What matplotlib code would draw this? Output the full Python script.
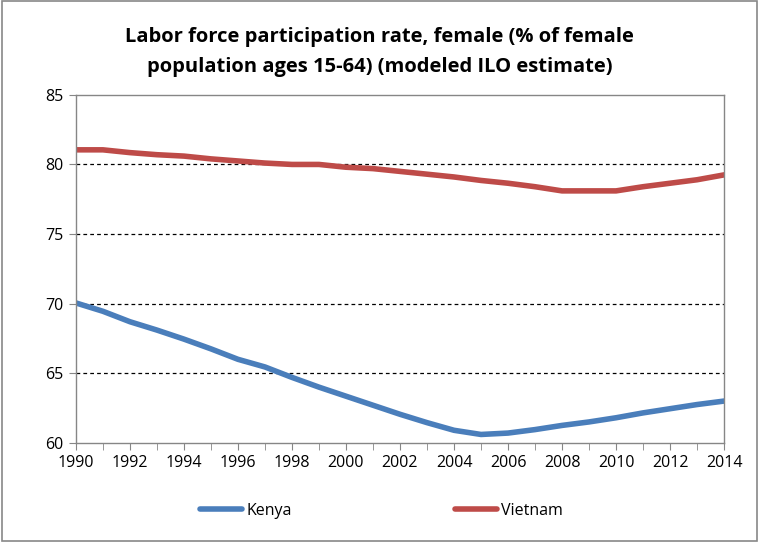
import numpy as np
import matplotlib.pyplot as plt
from matplotlib.lines import Line2D

years = list(range(1990, 2015))
kenya = [70.05, 69.45, 68.7, 68.1, 67.45, 66.75, 66.0, 65.45, 64.7, 64.0,
         63.35, 62.7, 62.05, 61.45, 60.9, 60.6, 60.7, 60.95, 61.25, 61.5,
         61.8, 62.15, 62.45, 62.75, 63.0]
vietnam = [81.05, 81.05, 80.85, 80.7, 80.6, 80.4, 80.25, 80.1, 80.0, 80.0,
           79.8, 79.7, 79.5, 79.3, 79.1, 78.85, 78.65, 78.4, 78.1, 78.1,
           78.1, 78.4, 78.65, 78.9, 79.25]
y_ticks = [60, 65, 70, 75, 80, 85]
x_labels = list(range(1990, 2015, 2))

title = "Labor force participation rate, female (% of female\npopulation ages 15-64) (modeled ILO estimate)"

plt.rcParams['font.family'] = ['Open Sans', 'DejaVu Sans']

fig = plt.figure(figsize=(7.59, 5.42), dpi=100)
ax = fig.add_axes([0.100, 0.183, 0.854, 0.642])

ax.plot(years, kenya, color='#4a7ebb', lw=4, solid_capstyle='round', label='Kenya')
ax.plot(years, vietnam, color='#be4b48', lw=4, solid_capstyle='round', label='Vietnam')

ax.set_xlim(1990, 2014)
ax.set_ylim(60, 85)
ax.set_yticks(y_ticks)
ax.set_xticks(x_labels)
ax.set_xticks(years, minor=True)
ax.tick_params(axis='both', direction='out', length=5, color='#868686', labelsize=11.5)
ax.tick_params(axis='x', which='minor', direction='out', length=5, color='#868686')
ax.tick_params(axis='y', pad=4)

for y in [65, 70, 75, 80]:
    ax.axhline(y, color='black', lw=0.9, ls=(0, (3, 2.5)), zorder=0)

for s in ax.spines.values():
    s.set_color('#868686')
    s.set_linewidth(1)

fig.text(0.5, 0.904, title, ha='center', va='center', fontsize=14.5,
         fontweight='bold', linespacing=1.7)

handles = [Line2D([0], [0], color='#4a7ebb', lw=4, solid_capstyle='round'),
           Line2D([0], [0], color='#be4b48', lw=4, solid_capstyle='round')]
fig.legend(handles, ['Kenya', 'Vietnam'], loc='center', bbox_to_anchor=(0.503, 0.058),
           ncol=2, frameon=False, fontsize=11.5, handlelength=2.6,
           columnspacing=10.2, handletextpad=0.3)

fig.patches.append(plt.Rectangle((0.002, 0.002), 0.996, 0.996, transform=fig.transFigure,
                                 fill=False, edgecolor='#888888', lw=1.2))

fig.savefig('out.png', dpi=100)
